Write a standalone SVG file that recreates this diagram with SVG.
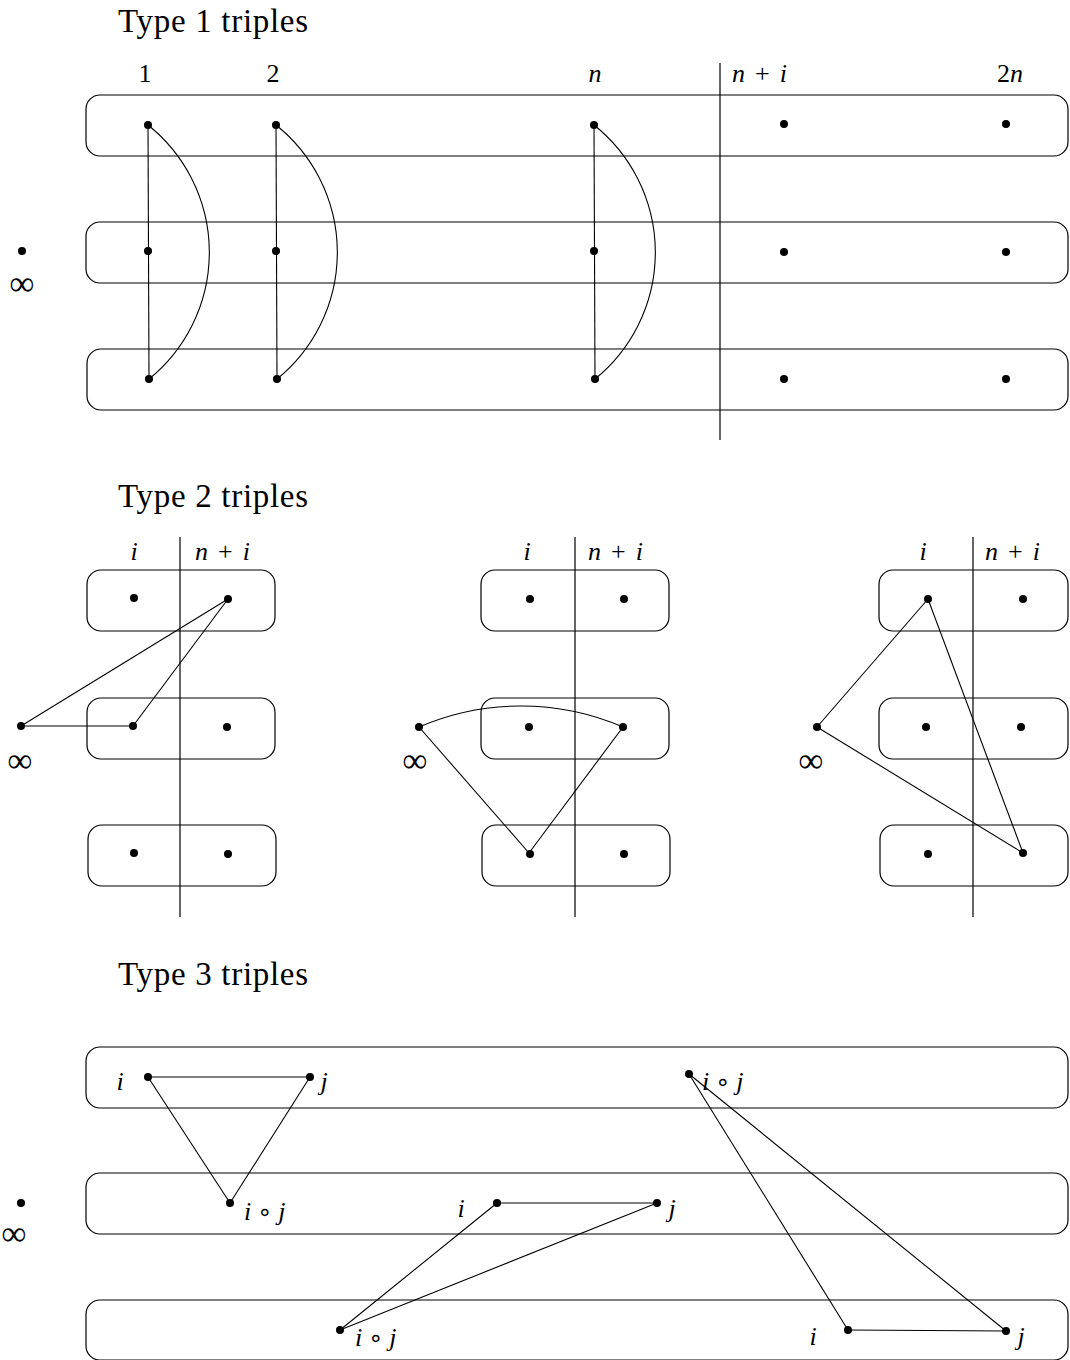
<svg xmlns="http://www.w3.org/2000/svg" width="1070" height="1360" viewBox="0 0 1070 1360">
<style>
.box{fill:none;stroke:#000;stroke-width:1.2}
.e{fill:none;stroke:#000;stroke-width:1.1}
.sep{stroke:#000;stroke-width:1.2}
.d{fill:#000}
text{font-family:"Liberation Serif","DejaVu Serif",serif;fill:#000}
.t{font-size:33px}
.l{font-size:26px}
.m{font-size:26px;font-style:italic}
.inf{font-family:"Liberation Serif","DejaVu Serif",serif;font-size:35px}
.it{font-style:italic}
.up{font-style:normal}
.ring{font-style:normal;font-family:"DejaVu Sans",sans-serif;font-size:24px}
</style>
<rect width="1070" height="1360" fill="#fff"/>

<!-- Titles -->
<text class="t" x="118" y="32" textLength="190">Type 1 triples</text>
<text class="t" x="118" y="507" textLength="190">Type 2 triples</text>
<text class="t" x="118" y="985" textLength="190">Type 3 triples</text>

<!-- Type 1 -->
<g id="t1-boxes">
<rect class="box" x="86" y="95" width="982" height="61" rx="14"/>
<rect class="box" x="86" y="222" width="982" height="61" rx="14"/>
<rect class="box" x="87" y="349" width="981" height="61" rx="14"/>
</g>
<g id="t1-labels">
<text class="l" x="145" y="82" text-anchor="middle">1</text>
<text class="l" x="273" y="82" text-anchor="middle">2</text>
<text class="m" x="595" y="82" text-anchor="middle">n</text>
<text class="m" x="732" y="82">n<tspan class="up" dx="10">+</tspan><tspan dx="10">i</tspan></text>
<text class="l" x="1010" y="82" text-anchor="middle">2<tspan class="it">n</tspan></text>
<text class="inf" x="22" y="295" text-anchor="middle">∞</text>
</g>
<g id="t1-connectors">
<line class="sep" x1="720" y1="63" x2="720" y2="440"/>
<line class="e" x1="148" y1="125" x2="149" y2="379"/>
<line class="e" x1="276" y1="125" x2="277" y2="379"/>
<line class="e" x1="594" y1="125" x2="595" y2="379"/>
<path class="e" d="M148 125 A163 163 0 0 1 149 379"/>
<path class="e" d="M276 125 A163 163 0 0 1 277 379"/>
<path class="e" d="M594 125 A163 163 0 0 1 595 379"/>
</g>
<g id="t1-nodes">
<circle class="d" cx="22" cy="251" r="4"/>
<circle class="d" cx="148" cy="125" r="4"/><circle class="d" cx="148" cy="251" r="4"/><circle class="d" cx="149" cy="379" r="4"/>
<circle class="d" cx="276" cy="125" r="4"/><circle class="d" cx="276" cy="251" r="4"/><circle class="d" cx="277" cy="379" r="4"/>
<circle class="d" cx="594" cy="125" r="4"/><circle class="d" cx="594" cy="251" r="4"/><circle class="d" cx="595" cy="379" r="4"/>
<circle class="d" cx="784" cy="124" r="4"/><circle class="d" cx="784" cy="252" r="4"/><circle class="d" cx="784" cy="379" r="4"/>
<circle class="d" cx="1006" cy="124" r="4"/><circle class="d" cx="1006" cy="252" r="4"/><circle class="d" cx="1006" cy="379" r="4"/>
</g>

<!-- Type 2 panel 1 -->
<g id="t2p1">
<rect class="box" x="87" y="570" width="188" height="61" rx="14"/>
<rect class="box" x="87" y="698" width="188" height="61" rx="14"/>
<rect class="box" x="88" y="825" width="188" height="61" rx="14"/>
<text class="m" x="134" y="560" text-anchor="middle">i</text>
<text class="m" x="195" y="560">n<tspan class="up" dx="10">+</tspan><tspan dx="10">i</tspan></text>
<text class="inf" x="20" y="772" text-anchor="middle">∞</text>
</g>
<!-- Type 2 panel 2 -->
<g id="t2p2">
<rect class="box" x="481" y="570" width="188" height="61" rx="14"/>
<rect class="box" x="481" y="698" width="188" height="61" rx="14"/>
<rect class="box" x="482" y="825" width="188" height="61" rx="14"/>
<text class="m" x="527" y="560" text-anchor="middle">i</text>
<text class="m" x="588" y="560">n<tspan class="up" dx="10">+</tspan><tspan dx="10">i</tspan></text>
<text class="inf" x="415" y="772" text-anchor="middle">∞</text>
</g>
<!-- Type 2 panel 3 -->
<g id="t2p3">
<rect class="box" x="879" y="570" width="189" height="61" rx="14"/>
<rect class="box" x="879" y="698" width="189" height="61" rx="14"/>
<rect class="box" x="880" y="825" width="188" height="61" rx="14"/>
<text class="m" x="923" y="560" text-anchor="middle">i</text>
<text class="m" x="985" y="560">n<tspan class="up" dx="10">+</tspan><tspan dx="10">i</tspan></text>
<text class="inf" x="811" y="772" text-anchor="middle">∞</text>
</g>
<g id="t2-connectors">
<line class="sep" x1="180" y1="537" x2="180" y2="917"/>
<line class="sep" x1="575" y1="537" x2="575" y2="917"/>
<line class="sep" x1="973" y1="537" x2="973" y2="917"/>
<line class="e" x1="21" y1="726" x2="228" y2="599"/>
<line class="e" x1="21" y1="726" x2="133" y2="726"/>
<line class="e" x1="133" y1="726" x2="228" y2="599"/>
<path class="e" d="M419 727 A258 258 0 0 1 623 727"/>
<line class="e" x1="419" y1="727" x2="529" y2="853"/>
<line class="e" x1="529" y1="853" x2="623" y2="727"/>
<line class="e" x1="817" y1="727" x2="928" y2="599"/>
<line class="e" x1="928" y1="599" x2="1023" y2="853"/>
<line class="e" x1="817" y1="727" x2="1023" y2="853"/>
</g>
<g id="t2-nodes">
<circle class="d" cx="21" cy="726" r="4"/>
<circle class="d" cx="134" cy="598" r="4"/><circle class="d" cx="228" cy="599" r="4"/>
<circle class="d" cx="133" cy="726" r="4"/><circle class="d" cx="227" cy="727" r="4"/>
<circle class="d" cx="134" cy="853" r="4"/><circle class="d" cx="228" cy="854" r="4"/>
<circle class="d" cx="419" cy="727" r="4"/>
<circle class="d" cx="530" cy="599" r="4"/><circle class="d" cx="624" cy="599" r="4"/>
<circle class="d" cx="529" cy="727" r="4"/><circle class="d" cx="623" cy="727" r="4"/>
<circle class="d" cx="530" cy="854" r="4"/><circle class="d" cx="624" cy="854" r="4"/>
<circle class="d" cx="817" cy="727" r="4"/>
<circle class="d" cx="928" cy="599" r="4"/><circle class="d" cx="1023" cy="599" r="4"/>
<circle class="d" cx="926" cy="727" r="4"/><circle class="d" cx="1021" cy="727" r="4"/>
<circle class="d" cx="928" cy="854" r="4"/><circle class="d" cx="1023" cy="853" r="4"/>
</g>

<!-- Type 3 -->
<g id="t3-boxes">
<rect class="box" x="86" y="1047" width="982" height="61" rx="14"/>
<rect class="box" x="86" y="1173" width="982" height="61" rx="14"/>
<rect class="box" x="86" y="1300" width="982" height="60" rx="14"/>
</g>
<g id="t3-labels">
<text class="m" x="120" y="1090" text-anchor="middle">i</text>
<text class="m" x="324" y="1090" text-anchor="middle">j</text>
<text class="m" x="244" y="1220">i<tspan class="ring" dx="6">∘</tspan><tspan dx="6">j</tspan></text>
<text class="m" x="702" y="1090">i<tspan class="ring" dx="6">∘</tspan><tspan dx="6">j</tspan></text>
<text class="m" x="461" y="1217" text-anchor="middle">i</text>
<text class="m" x="672" y="1217" text-anchor="middle">j</text>
<text class="m" x="355" y="1346">i<tspan class="ring" dx="6">∘</tspan><tspan dx="6">j</tspan></text>
<text class="m" x="813" y="1345" text-anchor="middle">i</text>
<text class="m" x="1021" y="1345" text-anchor="middle">j</text>
<text class="inf" x="14" y="1245" text-anchor="middle">∞</text>
</g>
<g id="t3-connectors">
<line class="e" x1="148" y1="1077" x2="310" y2="1077"/>
<line class="e" x1="148" y1="1077" x2="230" y2="1203"/>
<line class="e" x1="310" y1="1077" x2="230" y2="1203"/>
<line class="e" x1="497" y1="1203" x2="657" y2="1203"/>
<line class="e" x1="497" y1="1203" x2="340" y2="1330"/>
<line class="e" x1="657" y1="1203" x2="340" y2="1330"/>
<line class="e" x1="689" y1="1074" x2="848" y2="1330"/>
<line class="e" x1="689" y1="1074" x2="1006" y2="1331"/>
<line class="e" x1="848" y1="1330" x2="1006" y2="1331"/>
</g>
<g id="t3-nodes">
<circle class="d" cx="21" cy="1203" r="4"/>
<circle class="d" cx="148" cy="1077" r="4"/><circle class="d" cx="310" cy="1077" r="4"/>
<circle class="d" cx="230" cy="1203" r="4"/>
<circle class="d" cx="497" cy="1203" r="4"/><circle class="d" cx="657" cy="1203" r="4"/>
<circle class="d" cx="340" cy="1330" r="4"/>
<circle class="d" cx="689" cy="1074" r="4"/>
<circle class="d" cx="848" cy="1330" r="4"/><circle class="d" cx="1006" cy="1331" r="4"/>
</g>
</svg>
